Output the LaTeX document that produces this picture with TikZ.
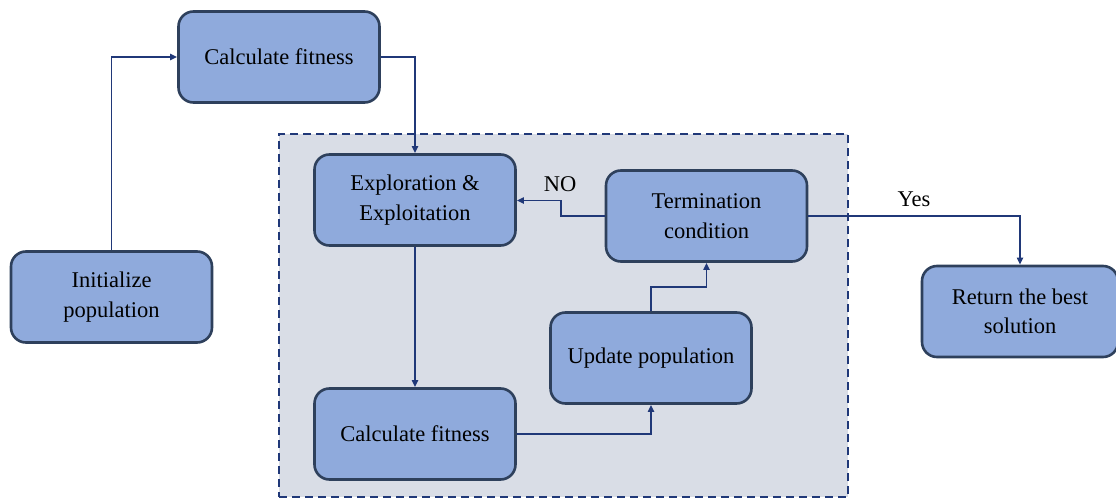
\documentclass[tikz,border=0pt]{standalone}
\usepackage{fontspec}
\setmainfont{Liberation Serif}
\usetikzlibrary{arrows.meta}
\definecolor{boxfill}{RGB}{143,170,220}
\definecolor{boxdraw}{RGB}{46,64,92}
\definecolor{arrowc}{RGB}{32,56,120}
\definecolor{bgc}{RGB}{217,221,230}
\tikzset{
  procbox/.style={draw=boxdraw, fill=boxfill, line width=2.6pt, rounded corners=15pt,
    minimum width=201pt, minimum height=91pt, align=center, font=\fontsize{22.5}{29.5}\selectfont, inner sep=0pt},
  conn/.style={draw=arrowc, line width=1.7pt, -{Triangle[length=7pt,width=6pt]}},
  lbl/.style={font=\fontsize{22.5}{29}\selectfont}
}
\begin{document}
\begin{tikzpicture}[x=1pt,y=-1pt]
\useasboundingbox (0,0) rectangle (1116,500);
\node[draw=arrowc, fill=bgc, dashed, dash pattern=on 8pt off 5pt, line width=1.6pt, minimum width=569pt, minimum height=363pt, inner sep=0pt] (frame) at (563.5,315.5) {};
\node[procbox] (calc1) at (279,57) {Calculate fitness};
\node[procbox] (init) at (111.5,297) {Initialize\\population};
\node[procbox] (explo) at (415,200) {Exploration \&\\Exploitation};
\node[procbox] (term) at (706.5,216) {Termination\\condition};
\node[procbox] (upd) at (651,358) {Update population};
\node[procbox] (calc2) at (415,434) {Calculate fitness};
\node[procbox, minimum width=196pt] (ret) at (1020,311.5) {Return the best\\solution};
\draw[conn] (init.north) |- (calc1.west);
\draw[conn] (calc1.east) -| (explo.north);
\draw[conn] (explo.south) -- (calc2.north);
\draw[conn] (calc2.east) -| (upd.south);
\draw[conn] (upd.north) |- (706.5,287) -- (term.south);
\draw[conn] (term.west) -- (561,216) |- (explo.east |- 0,200.5);
\draw[conn] (term.east) -| (ret.north);
\node[lbl] (no) at (560,184) {NO};
\node[lbl] (yes) at (914,199) {Yes};
\end{tikzpicture}
\end{document}
